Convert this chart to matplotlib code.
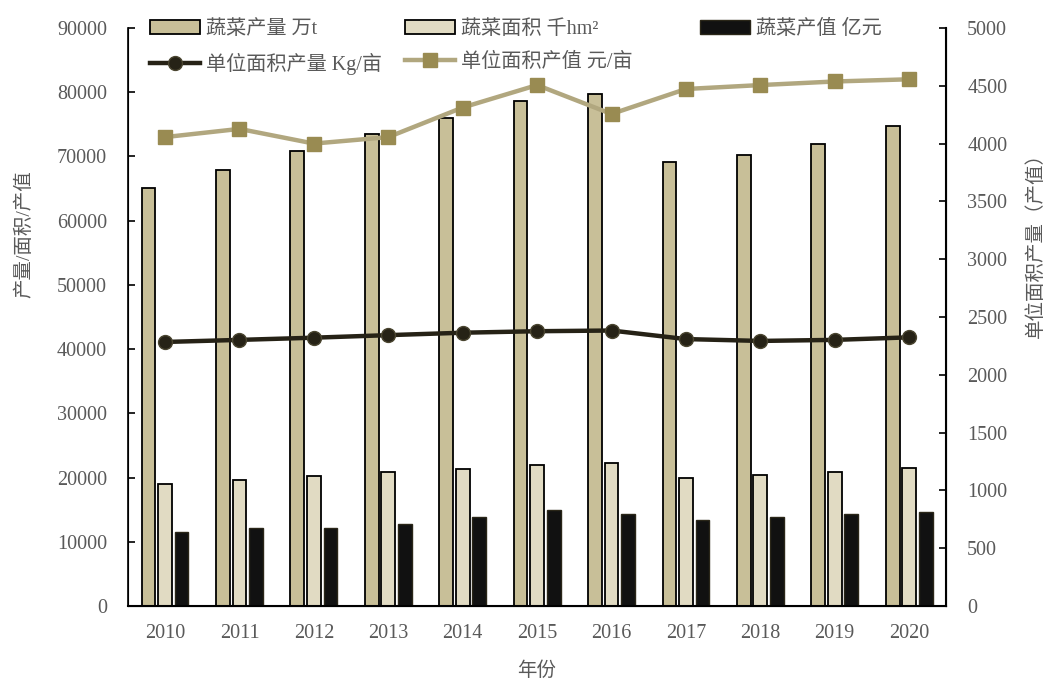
import numpy as np
import matplotlib
matplotlib.use("Agg")
import matplotlib.pyplot as plt

plt.rcParams['font.family'] = ['Liberation Serif', 'Noto Sans CJK SC', 'DejaVu Sans']

years = ["2010", "2011", "2012", "2013", "2014", "2015",
         "2016", "2017", "2018", "2019", "2020"]
# 蔬菜产量 万t
output = [65100, 67900, 70800, 73500, 76000, 78600,
          79700, 69100, 70200, 72000, 74800]
# 蔬菜面积 千hm2
area = [19000, 19600, 20300, 20800, 21400, 21900,
        22300, 19900, 20400, 20800, 21500]
# 蔬菜产值 亿元
value = [11600, 12200, 12200, 12800, 13900, 14900,
         14300, 13400, 13800, 14300, 14700]
# 单位面积产量 Kg/亩
yield_per_mu = [2284, 2302, 2321, 2343, 2364, 2377,
                2383, 2309, 2293, 2302, 2324]
# 单位面积产值 元/亩
value_per_mu = [4056, 4127, 4000, 4056, 4312, 4506,
                4256, 4472, 4506, 4537, 4556]

GREY = "#595959"
FS = 14.5

fig = plt.figure(figsize=(10.48, 6.82), dpi=100)
ax = fig.add_axes([0.122, 0.1114, 0.781, 0.8476])
ax2 = ax.twinx()

x = np.arange(len(years))
w = 0.185
off = 0.222
b1 = ax.bar(x - off, output, w, color="#C8BF98", edgecolor="black",
            linewidth=1.3, label="蔬菜产量 万t")
b2 = ax.bar(x, area, w, color="#E1DBC3", edgecolor="black",
            linewidth=1.3, label="蔬菜面积 千hm²")
b3 = ax.bar(x + off, value, w, color="#111111", edgecolor="#2a2618",
            linewidth=1.0, label="蔬菜产值 亿元")

l1, = ax2.plot(x, yield_per_mu, color="#262216", linewidth=3.2,
               marker="o", markersize=10, markerfacecolor="#262216",
               markeredgecolor="#4a4530", markeredgewidth=1,
               label="单位面积产量 Kg/亩")
l2, = ax2.plot(x, value_per_mu, color="#B1A77F", linewidth=3.2,
               marker="s", markersize=10, markerfacecolor="#998B52",
               markeredgecolor="#998B52", label="单位面积产值 元/亩")

ax.set_xlim(-0.5, len(years) - 0.5)
ax.set_ylim(0, 90000)
ax.set_yticks(np.arange(0, 90001, 10000))
ax2.set_ylim(0, 5000)
ax2.set_yticks(np.arange(0, 5001, 500))
ax.set_xticks(x)
ax.set_xticklabels(years)

for a in (ax, ax2):
    a.spines['top'].set_visible(False)
    a.tick_params(labelsize=FS, labelcolor=GREY, direction="in", length=5,
                  width=1.2)
ax.tick_params(axis='x', length=0, pad=13)
ax.tick_params(axis='y', pad=15)
ax2.tick_params(axis='y', pad=15)
ax.spines['left'].set_linewidth(1.2)
ax.spines['bottom'].set_linewidth(1.5)
ax2.spines['right'].set_linewidth(1.5)

ax.set_xlabel("年份", fontsize=14, color=GREY, labelpad=13)
fig.text(0.023, 0.657, "产量/面积/产值", rotation=90, fontsize=14,
         color=GREY, ha="center", va="center")
fig.text(0.988, 0.648, "单位面积产量（产值）", rotation=90, fontsize=14,
         color=GREY, ha="center", va="center")

# three legend columns placed separately, as in the reference
columns = [([b1, l1], 0.1431), ([b2, l2], 0.3865), ([b3], 0.668)]
for hs, xpos in columns:
    fig.legend(handles=hs, labels=[h.get_label() for h in hs],
               loc="upper left", bbox_to_anchor=(xpos, 0.971),
               frameon=False, fontsize=FS, labelcolor=GREY,
               handlelength=2.5, handletextpad=0.3, labelspacing=0.72,
               borderpad=0, borderaxespad=0)

fig.savefig("out.png", dpi=100)
